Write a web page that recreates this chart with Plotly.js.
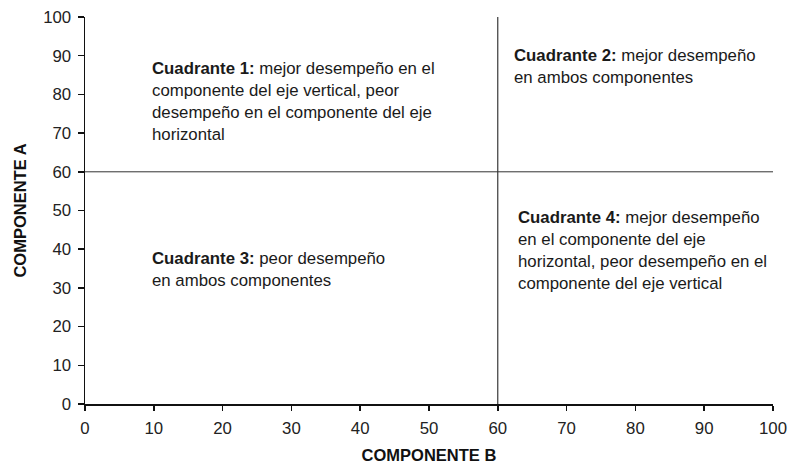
<!DOCTYPE html>
<html>
<head>
<meta charset="utf-8">
<script src="https://cdn.plot.ly/plotly-3.0.1.min.js"></script>
<style>
  body { margin: 0; background: #fff; }
  #chart { width: 793px; height: 464px; }
</style>
</head>
<body>
<div id="chart"></div>
<script>
// quadrant divider lines
const cutX = 60;
const cutY = 60;
const axisRange = [0, 100];
const tickVals = [0, 10, 20, 30, 40, 50, 60, 70, 80, 90, 100];

// quadrant labels: bold heading + text lines
const q1Lines = ["<b>Cuadrante 1:</b> mejor desempeño en el", "componente del eje vertical, peor", "desempeño en el componente del eje", "horizontal"];
const q2Lines = ["<b>Cuadrante 2:</b> mejor desempeño", "en ambos componentes"];
const q3Lines = ["<b>Cuadrante 3:</b> peor desempeño", "en ambos componentes"];
const q4Lines = ["<b>Cuadrante 4:</b> mejor desempeño", "en el componente del eje", "horizontal, peor desempeño en el", "componente del eje vertical"];

// where each block starts (data coords) and line step
const q1Pos = [9.4, 86.8];
const q2Pos = [62.1, 90.0];
const q3Pos = [9.4, 37.6];
const q4Pos = [62.6, 48.2];
const lineStep = 5.7;

const font = "Liberation Sans, Arial, sans-serif";

const traces = [
    { x: [cutX, cutX], y: axisRange, mode: "lines", line: { color: "#111", width: 1 }, hoverinfo: "skip" },
    { x: axisRange, y: [cutY, cutY], mode: "lines", line: { color: "#333", width: 1 }, hoverinfo: "skip" }
];

const annotations = [];
const addBlock = (lines, pos) => {
    lines.forEach((t, i) => {
        annotations.push({
            x: pos[0], y: pos[1] - i * lineStep, xref: "x", yref: "y",
            text: t, showarrow: false, xanchor: "left", yanchor: "middle",
            font: { family: font, size: 16.8, color: "#1a1a1a" }
        });
    });
};
addBlock(q1Lines, q1Pos);
addBlock(q2Lines, q2Pos);
addBlock(q3Lines, q3Pos);
addBlock(q4Lines, q4Pos);

const layout = {
    width: 793, height: 464,
    margin: { l: 85, r: 20, t: 17, b: 60 },
    paper_bgcolor: "#fff", plot_bgcolor: "#fff",
    showlegend: false,
    font: { family: font, color: "#222", size: 16.8 },
    xaxis: {
        range: axisRange, tickvals: tickVals, showgrid: false, zeroline: false,
        showline: true, linecolor: "#111", linewidth: 1.5,
        ticks: "outside", ticklen: 5, tickcolor: "#111", tickwidth: 1.5,
        ticklabelstandoff: 3,
        title: { text: "<b>COMPONENTE B</b>", font: { size: 16.5, color: "#111" }, standoff: 14 }
    },
    yaxis: {
        range: axisRange, tickvals: tickVals, showgrid: false, zeroline: false,
        showline: true, linecolor: "#111", linewidth: 1.5,
        ticks: "outside", ticklen: 6, tickcolor: "#111", tickwidth: 1.5,
        ticklabelstandoff: 3,
        title: { text: "<b>COMPONENTE A</b>", font: { size: 16.5, color: "#111" }, standoff: 12 }
    },
    annotations: annotations
};

Plotly.newPlot("chart", traces, layout, { displayModeBar: false, staticPlot: true });
</script>
</body>
</html>
